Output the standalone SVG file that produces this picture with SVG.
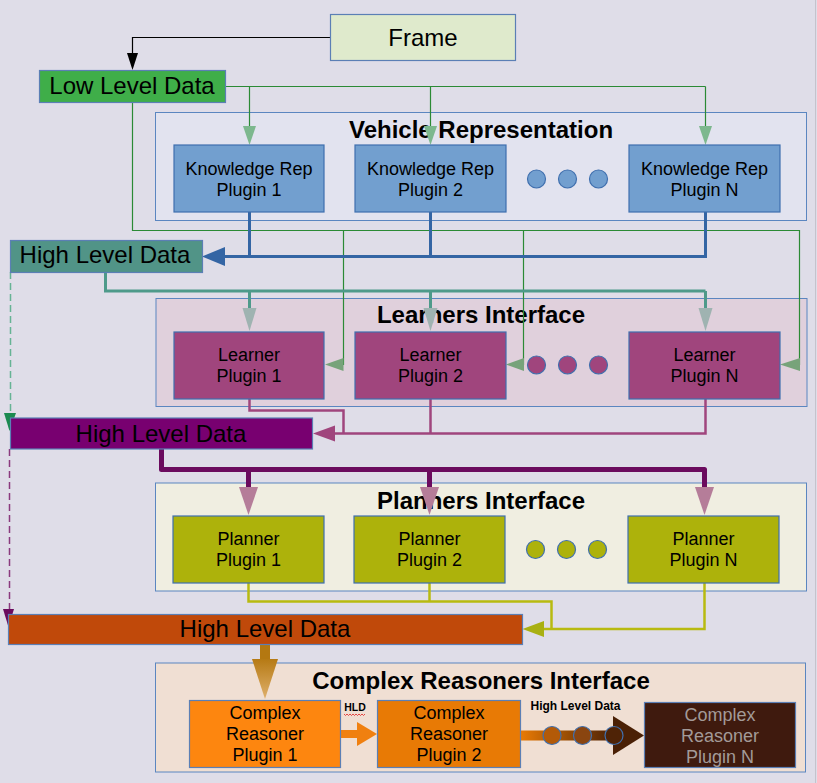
<svg xmlns="http://www.w3.org/2000/svg" width="817" height="783" viewBox="0 0 817 783">
<style>
text{font-family:"Liberation Sans",Arial,sans-serif;fill:#000;text-anchor:middle}
.big{font-size:24px}
.title{font-size:24px;font-weight:bold}
.pl{font-size:18px}
.cont{stroke:#5b86c0;stroke-width:1}
.box{stroke:#5b7fb5;stroke-width:1.2}
.kr{fill:#729fcf;stroke:#3f6fae;stroke-width:1.2}
.ln{fill:#a0457d;stroke:#3f6fae;stroke-width:1.2}
.pn{fill:#adb20b;stroke:#3f6fae;stroke-width:1.2}
.l{fill:none}
.g{stroke:#2b8a35;stroke-width:1.2}
.gh{fill:#7db88e}
.gh2{fill:#77a37a}
.b{stroke:#3465a4;stroke-width:3}
.t{stroke:#4e9a8a;stroke-width:3}
.th{fill:#9fb3b1}
.m{stroke:#a0457d;stroke-width:2.5}
.p{stroke:#6b0b5e;stroke-width:5;stroke-linejoin:round}
.ph{fill:#b57d99}
.y{stroke:#b8ba10;stroke-width:2.5}
</style>
<defs>
<linearGradient id="og" x1="0" y1="0" x2="0" y2="1">
<stop offset="0" stop-color="#b67a14"/><stop offset="1" stop-color="#dfb06c"/>
</linearGradient>
<linearGradient id="bg2" x1="0" y1="0" x2="1" y2="0">
<stop offset="0" stop-color="#e87a05"/><stop offset="1" stop-color="#4a2005"/>
</linearGradient>
</defs>
<rect x="0" y="0" width="817" height="783" fill="#dfdde8"/>
<line x1="815.5" y1="0" x2="815.5" y2="783" stroke="#c4c3cc" stroke-width="1"/>

<g id="containers">
<g id="vehicle-representation">
<rect class="cont" x="155.5" y="112.5" width="651" height="108" fill="#e2e3ef"/>
<text class="title" x="481" y="138">Vehicle Representation</text>
</g>
<g id="learners-interface">
<rect class="cont" x="156" y="298.5" width="651" height="108" fill="#e0d0dc"/>
<text class="title" x="481" y="323">Learners Interface</text>
</g>
<g id="planners-interface">
<rect class="cont" x="155.5" y="483" width="651" height="108" fill="#f0eee1"/>
<text class="title" x="481" y="509">Planners Interface</text>
</g>
<g id="complex-reasoners-interface">
<rect class="cont" x="155.5" y="663" width="650" height="109" fill="#f0dfd3"/>
<text class="title" x="481" y="689">Complex Reasoners Interface</text>
</g>
</g>

<g id="connectors">
<!-- Frame to Low Level Data -->
<path class="l" d="M330,37.5 H132.5 V54" stroke="#000" stroke-width="1.2"/>
<polygon points="127,53 138,53 132.5,70" fill="#000"/>
<!-- Low level data to KR plugins -->
<path class="l g" d="M225,86.5 H705.5 M249.5,86.5 V127 M430.5,86.5 V127 M705.5,86.5 V127"/>
<polygon class="gh" points="243,126 256,126 249.5,145"/>
<polygon class="gh" points="424,126 437,126 430.5,145"/>
<polygon class="gh" points="699,126 712,126 705.5,145"/>
<!-- Low level data to learners -->
<path class="l g" d="M132.5,102 V230.5 H799.5 V365 M343.5,230.5 V365 M523.5,230.5 V365"/>
<polygon class="gh2" points="325,364.5 343.5,358 343.5,371"/>
<polygon class="gh2" points="506,364.5 524,358 524,371"/>
<polygon class="gh2" points="780,364.5 800,358 800,371"/>
<!-- KR plugins to High Level Data -->
<path class="l b" d="M249.5,212 V256.5 M430.5,212 V256.5 M705.5,212 V256.5 H224"/>
<polygon points="202,256.5 225,247 225,266" fill="#3465a4"/>
<!-- HLD teal to learners -->
<path class="l t" d="M105.5,272 V291 H705.5 M249.5,291 V309 M430.5,291 V309 M705.5,291 V309"/>
<polygon class="th" points="242.5,308 256.5,308 249.5,331"/>
<polygon class="th" points="423.5,308 437.5,308 430.5,331"/>
<polygon class="th" points="698.5,308 712.5,308 705.5,331"/>
<!-- dashed teal HLD to purple HLD -->
<path class="l" d="M10.5,272 V414" stroke="#66b394" stroke-width="1.5" stroke-dasharray="7,4"/>
<polygon points="4,413 16,413 9.5,431" fill="#1b8a50"/>
<!-- learners to purple HLD -->
<path class="l m" d="M249.5,399 V410.5 H343.5 V433.5 M430.5,399 V433.5 M705.5,399 V433.5 H334"/>
<polygon points="313,433.5 335,425.5 335,441.5" fill="#a0457d"/>
<!-- purple HLD to planners -->
<path class="l p" d="M161.5,449 V469.5 H704.5 V488 M248.5,469.5 V488 M429.5,469.5 V488"/>
<polygon class="ph" points="239,487 258,487 248.5,515"/>
<polygon class="ph" points="420,487 439,487 429.5,515"/>
<polygon class="ph" points="695,487 714,487 704.5,515"/>
<!-- dashed purple HLD to orange HLD -->
<path class="l" d="M9.5,449 V609" stroke="#8a3a7e" stroke-width="1.5" stroke-dasharray="7,4"/>
<polygon points="3,609 14,609 8.5,627" fill="#6b0b5e"/>
<!-- planners to orange HLD -->
<path class="l y" d="M248.5,583 V601.5 H551.5 V629 M429.5,583 V601.5 M704.5,583 V629 H543"/>
<polygon points="522.5,629 544,621 544,637" fill="#a9b012"/>
<!-- orange HLD to Complex reasoner 1 -->
<rect x="260" y="644" width="10" height="16" fill="#b47811"/>
<polygon points="252,659 278,659 265,699" fill="url(#og)"/>
<!-- CR1 to CR2 -->
<rect x="340" y="730" width="18" height="8" fill="#f08010"/>
<polygon points="357,722 377,734 357,746" fill="#f08010"/>
<text x="355" y="711" style="font-size:10.5px;font-weight:bold">HLD</text>
<path class="l" d="M344,714 l1.5,1.5 1.5,-1.5 1.5,1.5 1.5,-1.5 1.5,1.5 1.5,-1.5 1.5,1.5 1.5,-1.5 1.5,1.5 1.5,-1.5 1.5,1.5 1.5,-1.5 1.5,1.5 1.5,-1.5 " stroke="#e02020" stroke-width="0.8"/>
<!-- CR2 to CRN -->
<rect x="521" y="730.5" width="93" height="10" fill="url(#bg2)"/>
<polygon points="613,716 644,735.5 613,755" fill="#4a2005"/>
<circle cx="552" cy="735.5" r="9" fill="#b35a08" stroke="#3f6fae" stroke-width="1.2"/>
<circle cx="582.5" cy="735.5" r="9" fill="#8a4510" stroke="#3f6fae" stroke-width="1.2"/>
<circle cx="614" cy="735.5" r="9" fill="#4f2306" stroke="#3f6fae" stroke-width="1.2"/>
<text x="575.5" y="710" style="font-size:12px;font-weight:bold">High Level Data</text>
</g>

<g id="frame">
<rect class="box" x="330.5" y="14.5" width="185" height="46" fill="#dfeacc"/>
<text class="big" x="423" y="46">Frame</text>
</g>
<g id="low-level-data">
<rect class="box" x="39.5" y="70.5" width="186" height="32" fill="#3fae49"/>
<text class="big" x="132" y="94">Low Level Data</text>
</g>
<g id="high-level-data-1">
<rect class="box" x="10.5" y="240.5" width="192" height="32" fill="#519487"/>
<text class="big" x="105" y="263">High Level Data</text>
</g>
<g id="high-level-data-2">
<rect class="box" x="10.5" y="418" width="302" height="31" fill="#780070"/>
<text class="big" x="161" y="442">High Level Data</text>
</g>
<g id="high-level-data-3">
<rect class="box" x="8.5" y="614.5" width="514" height="30" fill="#c0490a"/>
<text class="big" x="265" y="637">High Level Data</text>
</g>

<g id="kr-plugin-1"><rect class="kr" x="174" y="145" width="150" height="67"/><text class="pl" x="249" y="175">Knowledge Rep</text><text class="pl" x="249" y="196">Plugin 1</text></g>
<g id="kr-plugin-2"><rect class="kr" x="355" y="145" width="151" height="67"/><text class="pl" x="430.5" y="175">Knowledge Rep</text><text class="pl" x="430.5" y="196">Plugin 2</text></g>
<g id="kr-dots"><circle class="kr" cx="536.5" cy="179" r="9"/><circle class="kr" cx="567.5" cy="179" r="9"/><circle class="kr" cx="598.5" cy="179" r="9"/></g>
<g id="kr-plugin-n"><rect class="kr" x="629" y="145" width="151" height="67"/><text class="pl" x="704.5" y="175">Knowledge Rep</text><text class="pl" x="704.5" y="196">Plugin N</text></g>

<g id="learner-plugin-1"><rect class="ln" x="174" y="332" width="150" height="67"/><text class="pl" x="249" y="361">Learner</text><text class="pl" x="249" y="382">Plugin 1</text></g>
<g id="learner-plugin-2"><rect class="ln" x="355" y="332" width="151" height="67"/><text class="pl" x="430.5" y="361">Learner</text><text class="pl" x="430.5" y="382">Plugin 2</text></g>
<g id="learner-dots"><circle class="ln" cx="536.5" cy="365" r="9"/><circle class="ln" cx="567.5" cy="365" r="9"/><circle class="ln" cx="598.5" cy="365" r="9"/></g>
<g id="learner-plugin-n"><rect class="ln" x="629" y="332" width="151" height="67"/><text class="pl" x="704.5" y="361">Learner</text><text class="pl" x="704.5" y="382">Plugin N</text></g>

<g id="planner-plugin-1"><rect class="pn" x="173" y="516" width="151" height="67"/><text class="pl" x="248.5" y="545">Planner</text><text class="pl" x="248.5" y="566">Plugin 1</text></g>
<g id="planner-plugin-2"><rect class="pn" x="354" y="516" width="151" height="67"/><text class="pl" x="429.5" y="545">Planner</text><text class="pl" x="429.5" y="566">Plugin 2</text></g>
<g id="planner-dots"><circle class="pn" cx="535.5" cy="549.5" r="9"/><circle class="pn" cx="566.5" cy="549.5" r="9"/><circle class="pn" cx="597.5" cy="549.5" r="9"/></g>
<g id="planner-plugin-n"><rect class="pn" x="628" y="516" width="151" height="67"/><text class="pl" x="703.5" y="545">Planner</text><text class="pl" x="703.5" y="566">Plugin N</text></g>

<g id="cr-plugin-1"><rect class="box" x="189.5" y="700.5" width="151" height="67" fill="#fd860f"/><text class="pl" x="265" y="719">Complex</text><text class="pl" x="265" y="740">Reasoner</text><text class="pl" x="265" y="761">Plugin 1</text></g>
<g id="cr-plugin-2"><rect class="box" x="377.5" y="700.5" width="143" height="67" fill="#e87a05"/><text class="pl" x="449" y="719">Complex</text><text class="pl" x="449" y="740">Reasoner</text><text class="pl" x="449" y="761">Plugin 2</text></g>
<g id="cr-plugin-n"><rect class="box" x="644.5" y="702.5" width="151" height="65" fill="#3f1a0e"/><text class="pl" x="720" y="721" style="fill:#a39a98">Complex</text><text class="pl" x="720" y="742" style="fill:#a39a98">Reasoner</text><text class="pl" x="720" y="763" style="fill:#a39a98">Plugin N</text></g>
</svg>
